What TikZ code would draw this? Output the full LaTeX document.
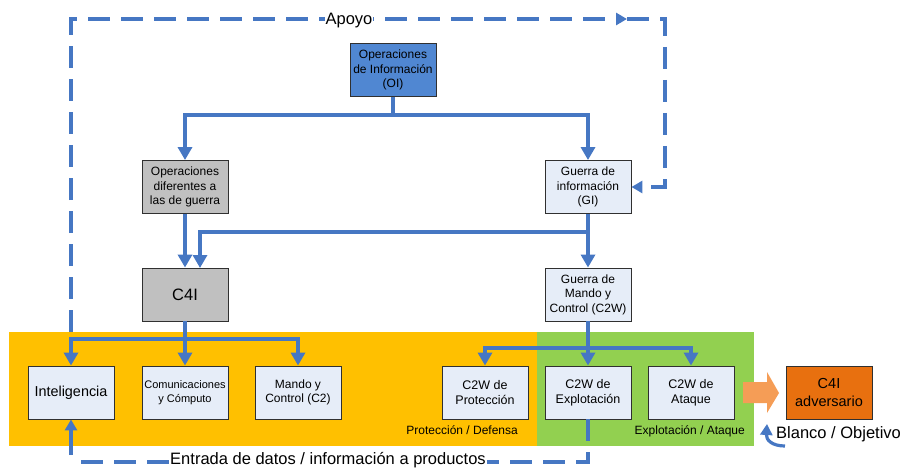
\documentclass[tikz,border=0pt]{standalone}
\usepackage{fontspec}
\setmainfont{Liberation Sans}
\usetikzlibrary{arrows.meta}
\definecolor{lnblue}{HTML}{4677C3}
\definecolor{oiblue}{HTML}{5087D2}
\definecolor{boxgray}{HTML}{C0C0C0}
\definecolor{boxlight}{HTML}{E6EDF8}
\definecolor{boxline}{HTML}{303030}
\definecolor{bandorange}{HTML}{FFC000}
\definecolor{bandgreen}{HTML}{92D050}
\definecolor{arroworange}{HTML}{F59D56}
\definecolor{advorange}{HTML}{E8700F}
\begin{document}
\begin{tikzpicture}[x=1pt,y=-1pt,
  box/.style={draw=boxline, line width=0.9pt, minimum width=86pt, minimum height=53pt,
    inner sep=1pt, align=center, font=\fontsize{12}{14.5}\selectfont},
  conn/.style={draw=lnblue, line width=3.8pt, -{Triangle[length=13pt,width=14pt]}},
  plain/.style={draw=lnblue, line width=3.8pt},
  dconn/.style={draw=lnblue, line width=3.2pt, dash pattern=on 22pt off 11pt},
  dtip/.style={-{Triangle[length=11pt,width=12pt]}},
  lbl/.style={inner sep=0pt, font=\fontsize{12}{14}\selectfont},
  biglbl/.style={inner sep=0pt, font=\fontsize{16.5}{19}\selectfont}
]
\useasboundingbox (0,0) rectangle (905,468);
% bands
\fill[bandorange] (9,332) rectangle (537,446);
\fill[bandgreen] (537,332) rectangle (754,446);

% nodes
\node[box, fill=oiblue] (oi) at (393,70) {Operaciones\\de Información\\(OI)};
\node[box, fill=boxgray] (odg) at (185,187) {Operaciones\\diferentes a\\las de guerra};
\node[box, fill=boxlight] (gi) at (588,187) {Guerra de\\información\\(GI)};
\node[box, fill=boxgray, font=\fontsize{16.5}{19}\selectfont] (c4i) at (185,294.5) {C4I};
\node[box, fill=boxlight] (c2w) at (588,294.5) {Guerra de\\Mando y\\Control (C2W)};
\node[box, fill=boxlight, font=\fontsize{14.4}{17}\selectfont] (intel) at (71,392.5) {Inteligencia};
\node[box, fill=boxlight, font=\fontsize{11}{14}\selectfont] (com) at (185,392.5) {Comunicaciones\\y Cómputo};
\node[box, fill=boxlight] (mc) at (298,392.5) {Mando y\\Control (C2)};
\node[box, fill=boxlight, font=\fontsize{12.5}{15}\selectfont] (prot) at (485,392.5) {C2W de\\Protección};
\node[box, fill=boxlight, font=\fontsize{12.5}{15}\selectfont] (expl) at (588,392.5) {C2W de\\Explotación};
\node[box, fill=boxlight, font=\fontsize{12.5}{15}\selectfont] (atq) at (691,392.5) {C2W de\\Ataque};
\node[box, fill=advorange, font=\fontsize{14.5}{18}\selectfont] (adv) at (829,392.5) {C4I\\adversario};

% band labels
\node[lbl, anchor=base east] (lprot) at (518,434) {Protección / Defensa};
\node[lbl, anchor=base east] (lexpl) at (745,434) {Explotación / Ataque};

% junctions
\coordinate (j1) at (393,115);
\coordinate (j2) at (588,232);
\coordinate (j3) at (185,339);
\coordinate (j4) at (588,348);
\coordinate (c4iin) at (200,268);

% OI tree
\draw[plain] (oi.south) -- (j1);
\draw[conn] (j1) -| (odg.north);
\draw[conn] (j1) -| (gi.north);
\draw[conn] (odg.south) -- (c4i.north);
\draw[conn] (gi.south) -- (c2w.north);
\draw[conn] (j2) -| (c4iin);

% C4I tree
\draw[plain] (c4i.south) -- (j3);
\draw[conn] (j3) -| (intel.north);
\draw[conn] (j3) -- (com.north);
\draw[conn] (j3) -| (mc.north);

% C2W tree
\draw[plain] (c2w.south) -- (j4);
\draw[conn] (j4) -| (prot.north);
\draw[conn] (j4) -- (expl.north);
\draw[conn] (j4) -| (atq.north);

% Apoyo dashed loop
\coordinate (a1) at (71,19);
\coordinate (a2) at (627,19);
\coordinate (a3) at (665,19);
\coordinate (a4) at (665,187);
\draw[dconn, dtip] (intel.north |- 0,332) -- (a1) -- (a2);
\draw[dconn, dtip] (a2) -- (a3) -- (a4) -- (gi.east);
\node[biglbl, fill=white, inner xsep=1pt, inner ysep=1pt, anchor=base] (apoyo) at (349,25) {Apoyo};

% bottom dashed feedback
\coordinate (b1) at (588,462);
\coordinate (b2) at (78,462);
\coordinate (b3) at (71,455);
\draw[dconn] (expl.south) -- (b1) -- (b2);
\draw[draw=lnblue, line width=3.2pt, dtip] (b3) -- (intel.south);
\node[biglbl, fill=white, inner xsep=1pt, inner ysep=1pt, anchor=base] (entrada) at (328,464) {Entrada de datos / información a productos};

% orange block arrow
\fill[arroworange] (743,382) -- (767,382) -- (767,372) -- (779,393) -- (767,413) -- (767,403) -- (743,403) -- cycle;

% Blanco / Objetivo
\node[biglbl, anchor=base west] (blanco) at (776,438) {Blanco / Objetivo};
\coordinate (bt) at (785,446);
\draw[draw=lnblue, line width=3.2pt, -{Triangle[length=11pt,width=12pt]}] (bt) .. controls (772,446) and (766,440) .. (767,424);
\end{tikzpicture}
\end{document}
